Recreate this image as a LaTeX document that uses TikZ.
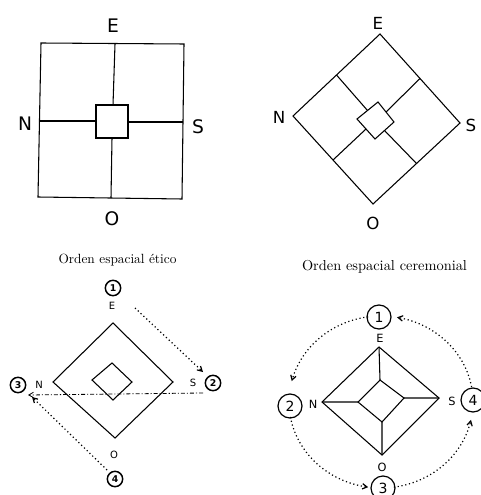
\documentclass[tikz,border=0pt]{standalone}
\usepackage{fontspec}
\newfontfamily\lab{DejaVu Sans}
\usetikzlibrary{arrows.meta}
\begin{document}
\begin{tikzpicture}[x=0.75pt,y=-0.75pt,
  ln/.style={line width=0.8pt,line join=miter},
  bigl/.style={font=\lab\fontsize{14}{14}\selectfont,inner sep=0pt},
  bigr/.style={font=\lab\fontsize{12.5}{13}\selectfont,inner sep=0pt},
  smalll/.style={font=\lab\fontsize{7.5}{8}\selectfont,inner sep=0pt},
  smallr/.style={font=\lab\fontsize{8.5}{9}\selectfont,inner sep=0pt},
  capt/.style={font=\fontsize{10}{10}\selectfont\addfontfeatures{LetterSpace=5,WordSpace=1.4},inner sep=0pt},
  captb/.style={font=\fontsize{10.8}{11}\selectfont\addfontfeatures{LetterSpace=6,WordSpace=1.8},inner sep=0pt},
  numS/.style={circle,draw,line width=1.1pt,minimum size=11.5pt,inner sep=0pt,font=\lab\bfseries\fontsize{7}{7}\selectfont},
  numB/.style={circle,draw,line width=0.9pt,minimum size=18pt,inner sep=0pt,font=\lab\fontsize{10.5}{10}\selectfont},
  dotarr/.style={line width=0.9pt,dash pattern=on 0.9pt off 2pt,-{Straight Barb[length=3.5pt,width=4pt]}},
  dasharr/.style={line width=0.6pt,dash pattern=on 3pt off 1.5pt on 0.8pt off 1.5pt,-{Straight Barb[length=3.5pt,width=4pt]}}]
\useasboundingbox (0,0) rectangle (480,495);

% ---------- top left: square ----------
\draw[ln] (41,43) -- (184,44) -- (182,199) -- (38,197) -- cycle;
\draw[ln] (96,105) rectangle (128,138);
\draw[ln] (115,44) -- (113,105) (112,138) -- (111,198);
\draw[ln] (40,121) -- (96,121) (128,122) -- (183,122);
\node[bigl] (tlE) at (113,26) {E};
\node[bigl] (tlN) at (25,124) {N};
\node[bigl] (tlS) at (198,127) {S};
\node[bigl] (tlO) at (112,219) {O};
\node[capt] (c1cap) at (117.5,260) {Orden espacial ético};

% ---------- top right: diamond ----------
\draw[ln] (380,34) -- (460,123) -- (373,204) -- (293,116) -- cycle;
\draw[ln] (378,102) -- (394,122) -- (375,139) -- (357,119) -- cycle;
\draw[ln] (336.5,75) -- (367.5,110.5);
\draw[ln] (420,78.5) -- (386,112);
\draw[ln] (416.5,163.5) -- (384.5,130.5);
\draw[ln] (333,160) -- (366,129);
\node[bigr] (trE) at (378,23) {E};
\node[bigr] (trN) at (279,117) {N};
\node[bigr] (trS) at (471,125) {S};
\node[bigr] (trO) at (373,223) {O};
\node[captb] (c2cap) at (384.5,267) {Orden espacial ceremonial};

% ---------- bottom left ----------
\draw[ln] (113,323) -- (173,382) -- (115,438) -- (53,382) -- cycle;
\draw[ln] (112,363) -- (132,382) -- (113,400) -- (92,380) -- cycle;
\node[smalll] (blE) at (112,306) {E};
\node[smalll] (blN) at (39,385) {N};
\node[smalll] (blS) at (193,383) {S};
\node[smalll] (blO) at (114,455) {O};
\node[numS] (b1) at (113,288) {1};
\node[numS] (b2) at (213,383) {2};
\node[numS] (b3) at (18,385) {3};
\node[numS] (b4) at (115,479) {4};
\coordinate (a1s) at (135,308);
\coordinate (a1e) at (203,372);
\coordinate (a2s) at (203,393);
\coordinate (a2e) at (28,395);
\coordinate (a3s) at (107,470);
\coordinate (a3e) at (32,397);
\draw[dotarr] (a1s) -- (a1e);
\draw[dasharr] (a2s) -- (a2e);
\draw[dotarr] (a3s) -- (a3e);

% ---------- bottom right ----------
\draw[ln] (379,347) -- (439,398) -- (382,455) -- (322,402) -- cycle;
\draw[ln] (380,380) -- (404,398) -- (382,422) -- (358,402) -- cycle;
\draw[ln] (379,347) -- (380,380) (439,398) -- (404,398) (382,455) -- (382,422) (322,402) -- (358,402);
\node[smallr] (brE) at (380,338) {E};
\node[smallr] (brN) at (313,404) {N};
\node[smallr] (brS) at (452,401) {S};
\node[smallr] (brO) at (382,467) {O};
\node[numB] (r1) at (379,317) {1};
\node[numB] (r2) at (290,406) {2};
\node[numB] (r3) at (383,488) {3};
\node[numB] (r4) at (473,400) {4};
\draw[dotarr] plot[domain=-10:-80,samples=40] ({381+92*cos(\x)},{402+86*sin(\x)});
\draw[dotarr] plot[domain=-98:-166,samples=40] ({381+92*cos(\x)},{402+86*sin(\x)});
\draw[dotarr] plot[domain=170:98,samples=40] ({381+92*cos(\x)},{402+86*sin(\x)});
\draw[dotarr] plot[domain=82:12,samples=40] ({381+92*cos(\x)},{402+86*sin(\x)});
\end{tikzpicture}
\end{document}
